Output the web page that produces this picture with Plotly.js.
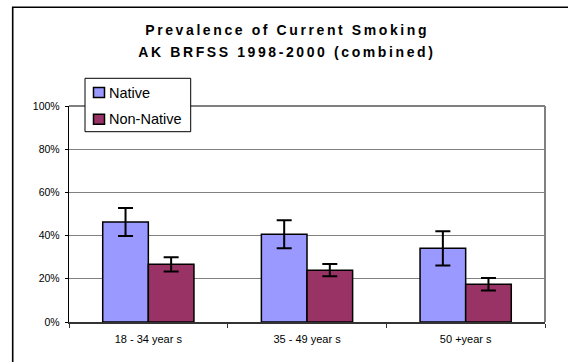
<!DOCTYPE html>
<html>
<head>
<meta charset="utf-8">
<script src="https://cdn.plot.ly/plotly-3.0.1.min.js"></script>
<style>
html, body { margin: 0; padding: 0; background: #fff; }
#chart { width: 568px; height: 362px; }
.gtitle { letter-spacing: 2.6px; }
.annotation[data-index="0"] text { letter-spacing: 2.6px; }
</style>
</head>
<body>
<div id="chart"></div>
<script>
// ---- data ----
var categories = ['18 - 34 year s', '35 - 49 year s', '50 +year s'];
var seriesNames = ['Native', 'Non-Native'];
var nativeValues = [0.463, 0.406, 0.341];
var nativeErrors = [0.065, 0.065, 0.079];
var nonNativeValues = [0.267, 0.240, 0.175];
var nonNativeErrors = [0.033, 0.028, 0.029];
var seriesColors = ['#9999FF', '#993366'];
var titleLine1 = 'Prevalence of Current Smoking';
var titleLine2 = 'AK BRFSS 1998-2000 (combined)';

// ---- geometry helpers (pixels -> paper) ----
var W = 568, H = 362;
var L = 69, R = 545, T = 106, B = 322;
function px(x) { return (x - L) / (R - L); }
function py(y) { return (B - y) / (B - T); }

var FONT = 'Arial, "Liberation Sans", sans-serif';

var traces = [
  {
    type: 'bar', name: seriesNames[0], x: categories, y: nativeValues,
    marker: { color: seriesColors[0], line: { color: '#000', width: 1.5 } },
    error_y: { type: 'data', array: nativeErrors, visible: true, color: '#000', thickness: 2, width: 7.5 },
    showlegend: false, hoverinfo: 'skip'
  },
  {
    type: 'bar', name: seriesNames[1], x: categories, y: nonNativeValues,
    marker: { color: seriesColors[1], line: { color: '#000', width: 1.5 } },
    error_y: { type: 'data', array: nonNativeErrors, visible: true, color: '#000', thickness: 2, width: 7.5 },
    showlegend: false, hoverinfo: 'skip'
  }
];

// legend (drawn manually to match the original's compact box)
var legendRows = [92.6, 119.3];
var shapes = [
  // outer chart frame
  { type: 'rect', xref: 'paper', yref: 'paper', x0: px(12.7), x1: px(580), y0: py(375), y1: py(7.3),
    line: { color: '#000', width: 1.6 }, fillcolor: 'rgba(0,0,0,0)', layer: 'above' },
  // plot-area border: top and right (grey)
  { type: 'line', xref: 'paper', yref: 'paper', x0: 0, x1: 1, y0: 1, y1: 1, line: { color: '#808080', width: 2 }, layer: 'above' },
  { type: 'line', xref: 'paper', yref: 'paper', x0: 1, x1: 1, y0: 0, y1: 1, line: { color: '#808080', width: 2 }, layer: 'above' },
  // legend box
  { type: 'rect', xref: 'paper', yref: 'paper', x0: px(85), x1: px(190.7), y0: py(131.7), y1: py(78.3),
    line: { color: '#000', width: 1 }, fillcolor: '#fff', layer: 'above' }
];
var annotations = [
  { text: '<b>' + titleLine2 + '</b>', xref: 'paper', yref: 'paper', x: px(287.2), y: py(51.7),
    xanchor: 'center', yanchor: 'middle', showarrow: false, font: { family: FONT, size: 14, color: '#000' } }
];
for (var i = 0; i < seriesNames.length; i++) {
  var cy = legendRows[i];
  shapes.push({ type: 'rect', xref: 'paper', yref: 'paper', x0: px(93.5), x1: px(104.5), y0: py(cy + 5), y1: py(cy - 5),
    line: { color: '#000', width: 1.5 }, fillcolor: seriesColors[i], layer: 'above' });
  annotations.push({ text: seriesNames[i], xref: 'paper', yref: 'paper', x: px(106.5), y: py(cy),
    xanchor: 'left', yanchor: 'middle', showarrow: false, font: { family: FONT, size: 14.5, color: '#000' } });
}

var layout = {
  width: W, height: H,
  margin: { l: L, r: W - R, t: T, b: H - B, pad: 0 },
  paper_bgcolor: '#fff', plot_bgcolor: '#fff',
  font: { family: FONT, color: '#000' },
  title: {
    text: '<b>' + titleLine1 + '</b>',
    font: { family: FONT, size: 14, color: '#000' },
    xref: 'container', yref: 'container', x: 287.2 / W, y: 1 - 30 / H,
    xanchor: 'center', yanchor: 'middle'
  },
  barmode: 'group', bargap: 0.425, bargroupgap: 0,
  xaxis: {
    type: 'category', tickson: 'boundaries', ticks: 'outside', ticklen: 4, tickcolor: '#333', tickwidth: 1,
    showline: true, linecolor: '#333', linewidth: 1.5, showgrid: false, zeroline: false,
    tickfont: { family: FONT, size: 11, color: '#000' }, ticklabelstandoff: 6, fixedrange: true
  },
  yaxis: {
    range: [0, 1], dtick: 0.2, tickformat: '.0%', ticks: 'outside', ticklen: 3, tickcolor: '#000', tickwidth: 1,
    showline: true, linecolor: '#000', linewidth: 1.2, showgrid: true, gridcolor: '#808080', gridwidth: 1,
    zeroline: false, tickfont: { family: FONT, size: 10.5, color: '#000' }, ticklabelstandoff: 3, fixedrange: true
  },
  shapes: shapes,
  annotations: annotations,
  showlegend: false
};

Plotly.newPlot('chart', traces, layout, { displayModeBar: false, staticPlot: true });
</script>
</body>
</html>
